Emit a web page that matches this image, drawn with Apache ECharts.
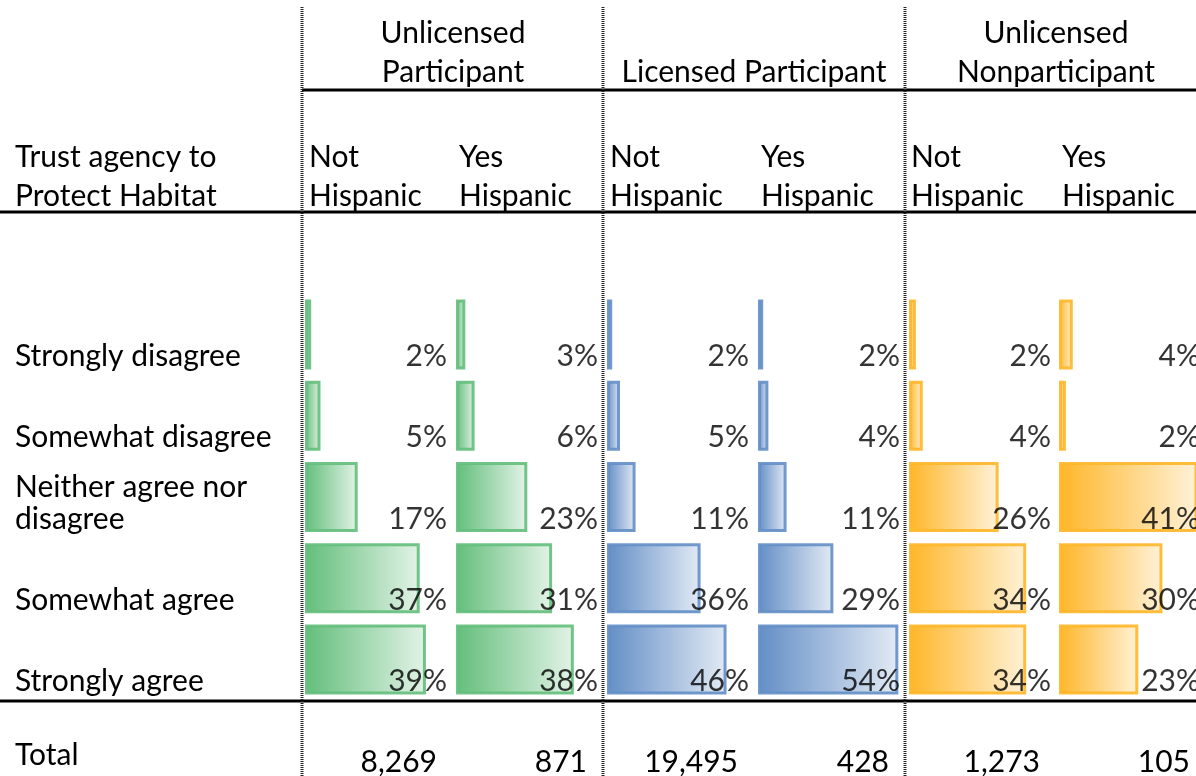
<!DOCTYPE html>
<html>
<head>
<meta charset="utf-8">
<script src="https://cdn.jsdelivr.net/npm/echarts@6/dist/echarts.min.js"></script>
<style>
  html, body { margin: 0; padding: 0; background: #ffffff; }
  #chart { width: 1196px; height: 776px; }
</style>
</head>
<body>
<div id="chart"></div>
<script>
// Response categories (rows, top to bottom)
const rowLabels = ['Strongly disagree', 'Somewhat disagree', 'Neither agree nor\ndisagree', 'Somewhat agree', 'Strongly agree'];

// Group headers and sub-column headers
const groupTitles = ['Unlicensed\nParticipant', 'Licensed Participant', 'Unlicensed\nNonparticipant'];
const subTitles = ['Not\nHispanic', 'Yes\nHispanic'];
const cornerTitle = 'Trust agency to\nProtect Habitat';
const totalLabel = 'Total';

// Percent of respondents per response, by group and ethnicity
const unlicensedNotHispanic = [2, 5, 17, 37, 39];
const unlicensedYesHispanic = [3, 6, 23, 31, 38];
const licensedNotHispanic = [2, 5, 11, 36, 46];
const licensedYesHispanic = [2, 4, 11, 29, 54];
const nonparticipantNotHispanic = [2, 4, 26, 34, 34];
const nonparticipantYesHispanic = [4, 2, 41, 30, 23];

// Sample sizes per column
const totals = [8269, 871, 19495, 428, 1273, 105];

const FONT = 'Lato, "Open Sans", sans-serif';
const FS = 30;

// each column: its values, bar colour, axis max for the cell width and the label offset
const columns = [
  { data: unlicensedNotHispanic, color: '#63BE7B', max: 48.7, width: 151, labelDx: -9 },
  { data: unlicensedYesHispanic, color: '#63BE7B', max: 48.7, width: 151, labelDx: -9 },
  { data: licensedNotHispanic, color: '#638EC6', max: 58.1, width: 151, labelDx: -9 },
  { data: licensedYesHispanic, color: '#638EC6', max: 58.1, width: 151, labelDx: -9 },
  { data: nonparticipantNotHispanic, color: '#FFB628', max: 43.8, width: 151, labelDx: -9 },
  { data: nonparticipantYesHispanic, color: '#FFB628', max: 39.74, width: 137, labelDx: 4 }
];
const colLeft = [305, 456, 607, 758, 909, 1059];

const grids = [], xAxes = [], yAxes = [], series = [];
columns.forEach((c, i) => {
  grids.push({ left: colLeft[i], top: 294, width: c.width, height: 406, containLabel: false });
  xAxes.push({ type: 'value', gridIndex: i, min: 0, max: c.max, show: false });
  yAxes.push({ type: 'category', gridIndex: i, data: rowLabels, inverse: true, show: false });
  series.push({
    type: 'bar', xAxisIndex: i, yAxisIndex: i, barWidth: 70, data: c.data, z: 2,
    itemStyle: {
      color: new echarts.graphic.LinearGradient(0, 0, 1, 0, [
        { offset: 0, color: c.color },
        { offset: 1, color: echarts.color.modifyAlpha(c.color, 0.18) }
      ]),
      borderColor: echarts.color.modifyAlpha(c.color, 0.9), borderWidth: 3
    },
    silent: true
  });
  // percent labels sit at the right of each cell, near the bottom of the row
  series.push({
    type: 'scatter', xAxisIndex: i, yAxisIndex: i, symbolSize: 0, z: 5, clip: false,
    data: c.data.map((v, r) => [c.max, r, v]),
    label: {
      show: true, position: 'inside', align: 'right', verticalAlign: 'middle',
      offset: [c.labelDx, 22], fontFamily: FONT, fontSize: FS, color: '#000',
      formatter: p => p.value[2] + '%'
    },
    silent: true
  });
});

const chart = echarts.init(document.getElementById('chart'), null, { renderer: 'canvas' });
chart.setOption({
  animation: false,
  backgroundColor: '#ffffff',
  grid: grids, xAxis: xAxes, yAxis: yAxes, series: series
});

// table chrome: headers, rules, row labels and totals
const textStyle = (extra) => Object.assign({ fill: '#000', font: FS + 'px ' + FONT, lineHeight: 39 }, extra);
const gfx = [];
const groupCenters = [453, 754, 1056];
groupTitles.forEach((t, g) => {
  gfx.push({ type: 'text', x: groupCenters[g], y: t.indexOf('\n') >= 0 ? 52.5 : 72,
    style: textStyle({ text: t, align: 'center', verticalAlign: 'middle' }) });
});
const subX = [309, 459, 610, 761, 911, 1062];
subX.forEach((x, i) => {
  gfx.push({ type: 'text', x: x, y: 176.5, style: textStyle({ text: subTitles[i % 2], align: 'left', verticalAlign: 'middle' }) });
});
gfx.push({ type: 'text', x: 15, y: 176.5, style: textStyle({ text: cornerTitle, align: 'left', verticalAlign: 'middle' }) });

rowLabels.forEach((lab, r) => {
  const cy = chart.convertToPixel({ yAxisIndex: 0 }, r);
  gfx.push({ type: 'text', x: 15, y: cy + 22 + 16,
    style: Object.assign(textStyle({ text: lab, align: 'left', verticalAlign: 'bottom' }), { lineHeight: 32 }) });
});

gfx.push({ type: 'text', x: 15, y: 755, style: textStyle({ text: totalLabel, align: 'left', verticalAlign: 'middle' }) });
const totalRight = [437, 587, 738, 889, 1040, 1190];
totals.forEach((v, i) => {
  gfx.push({ type: 'text', x: totalRight[i], y: 762,
    style: textStyle({ text: v.toLocaleString('en-US'), align: 'right', verticalAlign: 'middle' }) });
});

// horizontal rules
[[302, 90], [0, 212], [0, 701]].forEach(([x0, y]) => {
  gfx.push({ type: 'line', shape: { x1: x0, y1: y, x2: 1196, y2: y }, style: { stroke: '#000', lineWidth: 3 }, z: 10 });
});
// dotted group separators
[302, 603, 905].forEach(x => {
  gfx.push({ type: 'line', shape: { x1: x, y1: 7, x2: x, y2: 776 }, style: { stroke: '#222', lineWidth: 3, lineDash: [1, 1] }, z: 10 });
});

chart.setOption({ graphic: gfx });
</script>
</body>
</html>
